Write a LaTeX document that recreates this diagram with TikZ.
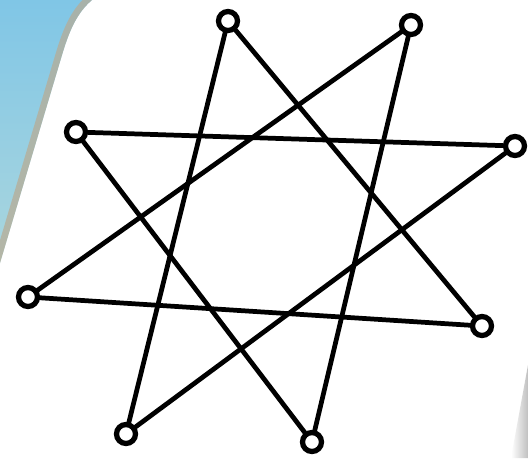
\documentclass[tikz,border=0pt]{standalone}
\usetikzlibrary{calc}

\tikzset{
    ring/.style={circle, draw, fill=white, line width=3pt, minimum size=0.38cm, inner sep=0pt},
    edge/.style={line width=2.7pt, line cap=round}
}

\begin{document}
\begin{tikzpicture}[x=0.02cm, y=-0.02cm]
    % Page and background of the photo
    \useasboundingbox (0,0) rectangle (528,458);
    \fill[white] (0,0) rectangle (528,458);
    \shade[top color={rgb,255:red,128;green,198;blue,230}, bottom color={rgb,255:red,170;green,214;blue,222}]
        (0,0) -- (92,0) .. controls (78,12) and (70,28) .. (62,55) -- (0,263) -- cycle;
    \begin{scope}
        \clip (0,0) -- (92,0) .. controls (78,12) and (70,28) .. (62,55) -- (0,263) -- cycle;
        \draw[line width=0.26cm, color={rgb,255:red,185;green,170;blue,145}, opacity=0.7]
            (92,0) .. controls (78,12) and (70,28) .. (62,55) -- (0,263);
    \end{scope}
    \shade[left color=white, right color=gray!50] (528,365) -- (528,458) -- (511,458) -- cycle;

    % Define the eight points of the star
    \node[ring] (A) at (228,21) {};
    \node[ring] (B) at (411,25) {};
    \node[ring] (C) at (515,146) {};
    \node[ring] (D) at (482,326) {};
    \node[ring] (E) at (312,442) {};
    \node[ring] (F) at (126,434) {};
    \node[ring] (G) at (28,297) {};
    \node[ring] (H) at (76,132) {};

    % Draw the star, every point joined to the third one along
    \draw[edge] (A) -- (F);
    \draw[edge] (A) -- (D);
    \draw[edge] (B) -- (G);
    \draw[edge] (B) -- (E);
    \draw[edge] (C) -- (H);
    \draw[edge] (C) -- (F);
    \draw[edge] (D) -- (G);
    \draw[edge] (E) -- (H);
\end{tikzpicture}
\end{document}
